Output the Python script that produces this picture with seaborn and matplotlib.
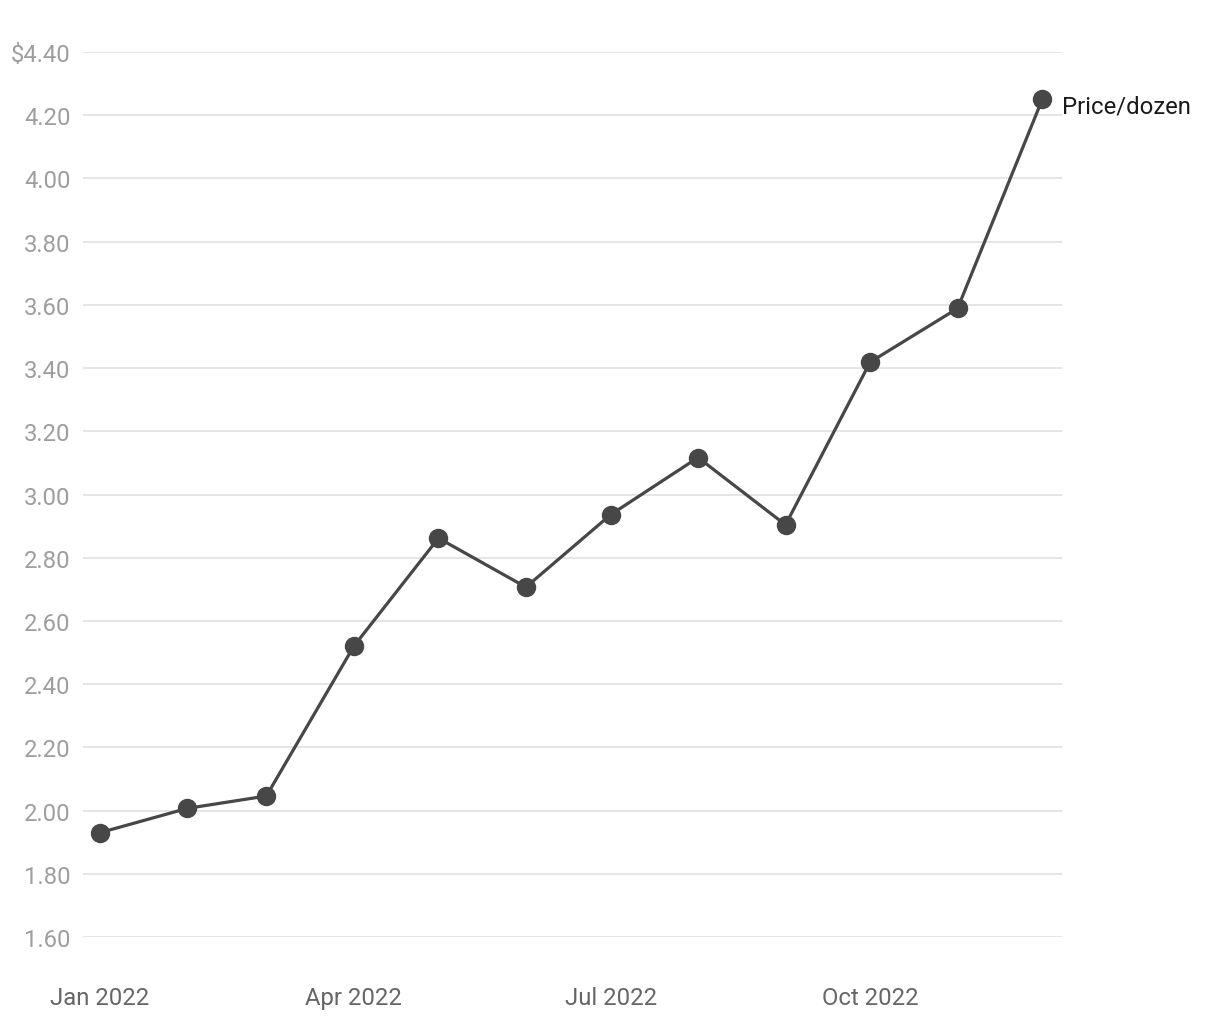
import pandas as pd
import seaborn as sns
import matplotlib.pyplot as plt
import matplotlib.dates as mdates

months = ['2022-01-01', '2022-02-01', '2022-03-01', '2022-04-01', '2022-05-01', '2022-06-01',
          '2022-07-01', '2022-08-01', '2022-09-01', '2022-10-01', '2022-11-01', '2022-12-01']
price = [1.93, 2.007, 2.046, 2.52, 2.862, 2.707, 2.936, 3.117, 2.904, 3.419, 3.589, 4.25]
series_name = 'Price/dozen'
y_ticks = [1.60, 1.80, 2.00, 2.20, 2.40, 2.60, 2.80, 3.00, 3.20, 3.40, 3.60, 3.80, 4.00, 4.20, 4.40]
x_ticks = ['2022-01-01', '2022-04-01', '2022-07-01', '2022-10-01']

df = pd.DataFrame({'month': pd.to_datetime(months), 'price': price})

sns.set_style('white')
plt.rcParams['font.family'] = ['Roboto', 'DejaVu Sans']

fig = plt.figure(figsize=(12.2, 10.2), dpi=100)
ax = fig.add_axes([0.068, 0.0804, 0.8025, 0.8676])

line_col = '#474747'
sns.lineplot(data=df, x='month', y='price', ax=ax, color=line_col, linewidth=2.3,
             marker='o', markersize=14, markeredgewidth=0, clip_on=False, zorder=3)

ax.set_ylim(1.6, 4.4)
ax.set_xlim(pd.Timestamp('2021-12-26'), pd.Timestamp('2022-12-08'))
ax.set_yticks(y_ticks)
ylabels = [f'{v:.2f}' for v in y_ticks]
ylabels[-1] = '$' + ylabels[-1]
ax.set_yticklabels(ylabels)
ax.set_xticks(pd.to_datetime(x_ticks))
ax.xaxis.set_major_formatter(mdates.DateFormatter('%b %Y'))

ax.grid(axis='y', color='#e3e3e3', linewidth=1.3)
ax.grid(axis='x', visible=False)
for s in ax.spines.values():
    s.set_visible(False)
ax.tick_params(axis='y', length=0, pad=9, labelsize=17.2, labelcolor='#9e9e9e')
ax.tick_params(axis='x', length=0, pad=35, labelsize=17.2, labelcolor='#666666')
ax.set_xlabel('')
ax.set_ylabel('')

ax.annotate(series_name, xy=(df['month'].iloc[-1], df['price'].iloc[-1]),
            xytext=(14, -5), textcoords='offset points', fontsize=17.2,
            color='#1a1a1a', va='center', ha='left', annotation_clip=False)

fig.savefig('out.png', dpi=100)
